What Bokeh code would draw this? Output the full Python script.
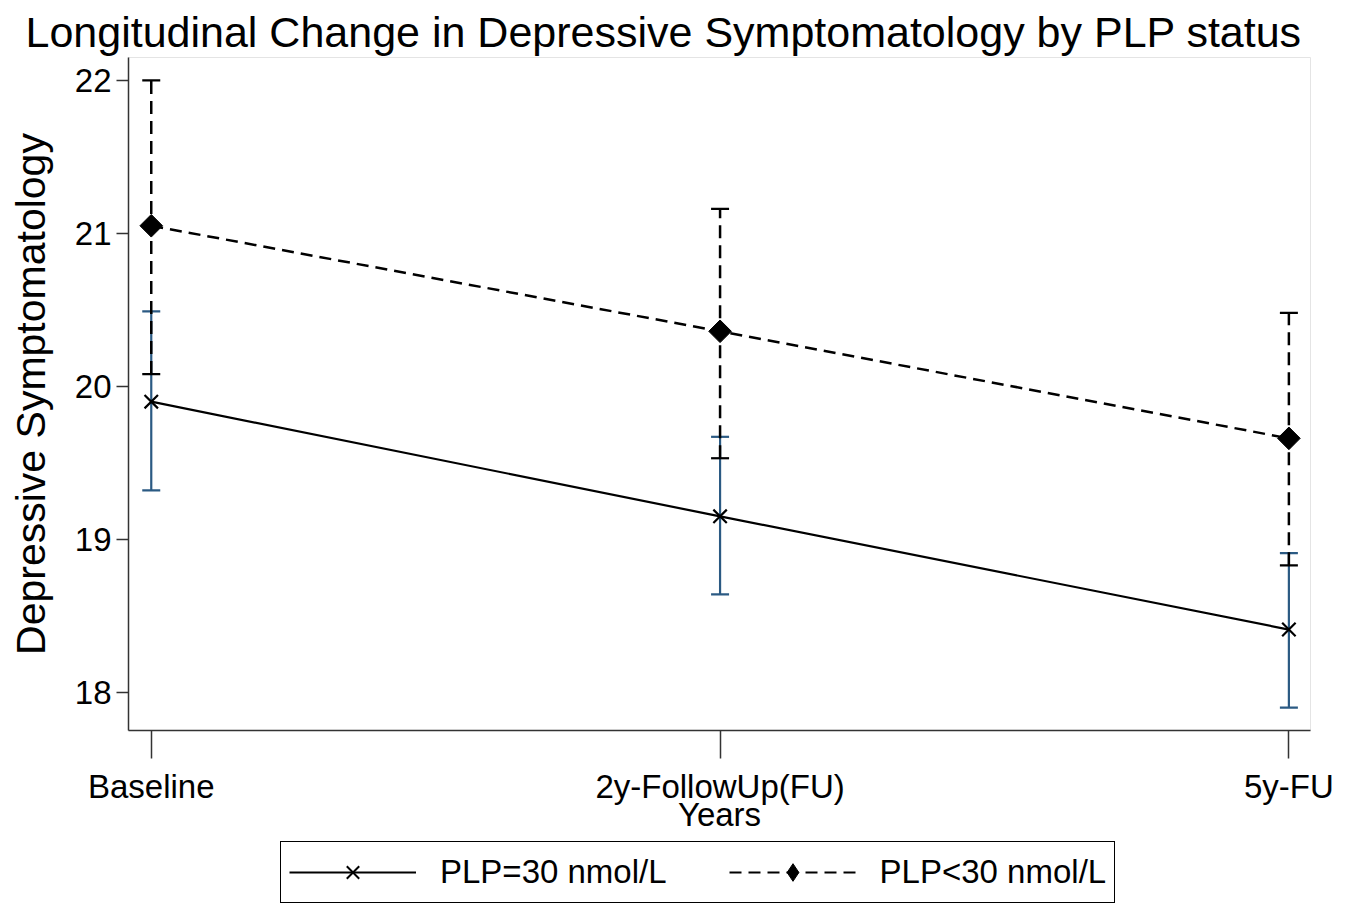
import numpy as np
from bokeh.plotting import figure
from bokeh.layouts import column
from bokeh.models import (ColumnDataSource, Whisker, TeeHead, Legend, LegendItem,
                          FixedTicker, Range1d)
from bokeh.embed import file_html
from bokeh.resources import INLINE

# ---- data ----
categories = ["Baseline", "2y-FollowUp(FU)", "5y-FU"]
y_ticks = [18, 19, 20, 21, 22]

plp_eq_mean = [19.90, 19.15, 18.41]
plp_eq_upper = [20.49, 19.67, 18.91]
plp_eq_lower = [19.32, 18.64, 17.90]

plp_lt_mean = [21.05, 20.36, 19.66]
plp_lt_upper = [22.00, 21.16, 20.48]
plp_lt_lower = [20.08, 19.53, 18.83]

series_labels = ["PLP=30 nmol/L", "PLP<30 nmol/L"]

FONT = "Liberation Sans"
BLUE = "#2b5a83"

xpos = list(range(len(categories)))

src_eq = ColumnDataSource(dict(x=xpos, mean=plp_eq_mean, upper=plp_eq_upper, lower=plp_eq_lower))
src_lt = ColumnDataSource(dict(x=xpos, mean=plp_lt_mean, upper=plp_lt_upper, lower=plp_lt_lower))

p = figure(width=1338, height=837, output_backend="svg", toolbar_location=None,
           x_range=Range1d(-0.04, 2.038), y_range=Range1d(17.75, 22.15),
           min_border_left=128, min_border_right=28, min_border_top=57, min_border_bottom=107)

p.title.text = "Longitudinal Change in Depressive Symptomatology by PLP status"
p.title.text_font = FONT
p.title.text_font_size = "43px"
p.title.text_font_style = "normal"
p.title.text_color = "black"
p.title.align = "left"
p.title.offset = -103
p.title.standoff = 4

p.grid.visible = False
p.outline_line_color = "#e4e4e4"
p.outline_line_width = 1
p.background_fill_color = "white"
p.border_fill_color = "white"

# axes
p.xaxis.ticker = FixedTicker(ticks=xpos)
p.xaxis.major_label_overrides = {i: c for i, c in enumerate(categories)}
p.yaxis.ticker = FixedTicker(ticks=y_ticks)
for ax in (p.xaxis, p.yaxis):
    ax.axis_line_color = "#333333"
    ax.axis_line_width = 1.5
    ax.major_tick_line_color = "#333333"
    ax.major_tick_line_width = 1.5
    ax.minor_tick_line_color = None
    ax.major_tick_in = 0
    ax.major_label_text_font = FONT
    ax.major_label_text_font_size = "33px"
    ax.major_label_text_color = "black"
    ax.axis_label_text_font = FONT
    ax.axis_label_text_font_style = "normal"
    ax.axis_label_text_color = "black"
p.xaxis.major_tick_out = 28
p.xaxis.major_label_standoff = 9
p.xaxis.axis_label = "Years"
p.xaxis.axis_label_text_font_size = "33px"
p.xaxis.axis_label_standoff = -12
p.yaxis.major_tick_out = 12
p.yaxis.major_label_standoff = 5
p.yaxis.axis_label = "Depressive Symptomatology"
p.yaxis.axis_label_text_font_size = "41px"
p.yaxis.axis_label_standoff = 18

# error bars
w_eq = Whisker(source=src_eq, base="x", upper="upper", lower="lower", dimension="height",
               line_color=BLUE, line_width=2.2,
               upper_head=TeeHead(size=18, line_color=BLUE, line_width=2.2),
               lower_head=TeeHead(size=18, line_color=BLUE, line_width=2.2))
w_lt = Whisker(source=src_lt, base="x", upper="upper", lower="lower", dimension="height",
               line_color="black", line_width=2.5, line_dash="13 7",
               upper_head=TeeHead(size=18, line_color="black", line_width=2.2),
               lower_head=TeeHead(size=18, line_color="black", line_width=2.2))
p.add_layout(w_eq)
p.add_layout(w_lt)

# lines and markers
p.line("x", "mean", source=src_eq, line_color="black", line_width=2.2)
p.scatter("x", "mean", source=src_eq, marker="x", size=19, line_color="black", line_width=2.2)
p.line("x", "mean", source=src_lt, line_color="black", line_width=2.5, line_dash="12 7")
p.scatter("x", "mean", source=src_lt, marker="square", size=16, angle=np.pi / 4,
          fill_color="black", line_color="black", line_width=1)

# ---- legend strip (separate figure below the chart) ----
lg = figure(width=1338, height=68, output_backend="svg", toolbar_location=None,
            x_range=Range1d(0, 1), y_range=Range1d(0, 1),
            min_border=0, min_border_left=0, min_border_right=0,
            min_border_top=0, min_border_bottom=0)
lg.axis.visible = False
lg.grid.visible = False
lg.outline_line_color = None
lg.border_fill_color = "white"
lg.background_fill_color = "white"

empty = ColumnDataSource(dict(x=[np.nan], y=[np.nan]))
r1l = lg.line("x", "y", source=empty, line_color="black", line_width=2.2)
r1m = lg.scatter("x", "y", source=empty, marker="x", size=15, line_color="black", line_width=2)
r2l = lg.line("x", "y", source=empty, line_color="black", line_width=2.2, line_dash="12 7")
r2m = lg.scatter("x", "y", source=empty, marker="diamond", size=24,
                 fill_color="black", line_color="black")

legend = Legend(items=[LegendItem(label=series_labels[0], renderers=[r1l, r1m]),
                       LegendItem(label=series_labels[1], renderers=[r2l, r2m])],
                orientation="horizontal", location=(152, 2))
legend.label_text_font = FONT
legend.label_text_font_size = "33px"
legend.label_text_color = "black"
legend.glyph_width = 127
legend.glyph_height = 44
legend.label_height = 36
legend.label_standoff = 24
legend.spacing = 62
legend.padding = 8
legend.margin = 0
legend.border_line_color = "black"
legend.border_line_alpha = 1
legend.border_line_width = 1.5
legend.background_fill_color = "white"
legend.background_fill_alpha = 1
lg.add_layout(legend, "center")

open("out.html", "w").write(file_html(column(p, lg), INLINE))
